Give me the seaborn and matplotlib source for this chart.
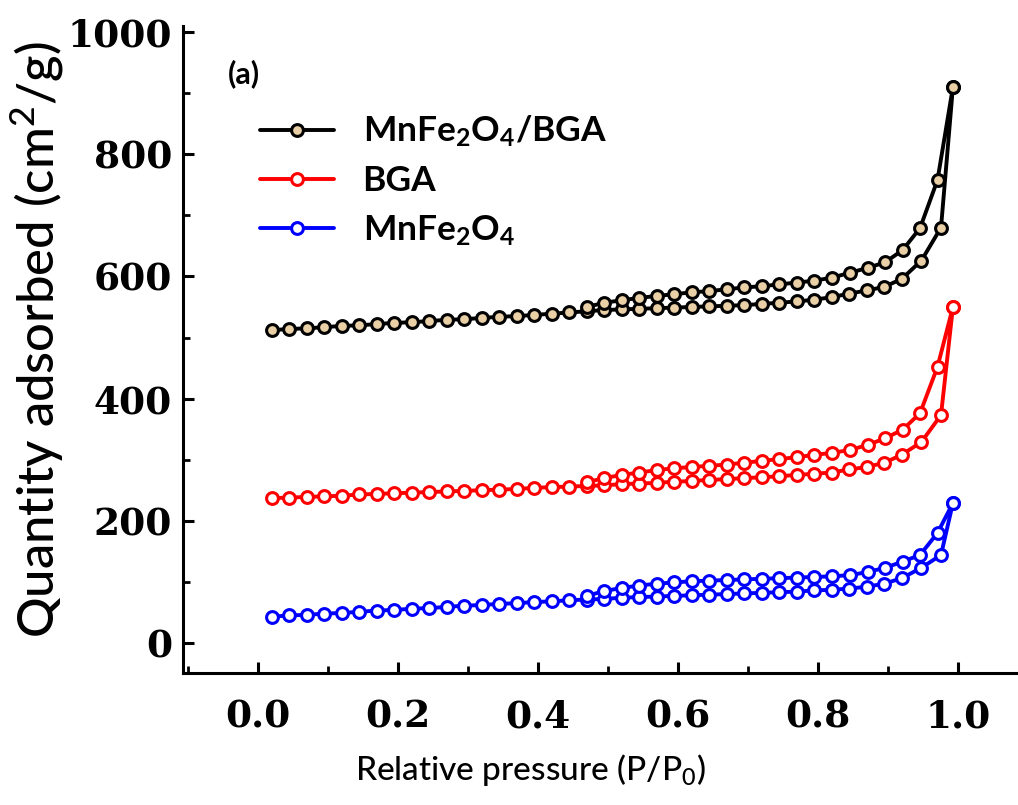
import matplotlib
matplotlib.use("Agg")
import matplotlib.pyplot as plt
import seaborn as sns
import pandas as pd
from matplotlib.ticker import MultipleLocator

# relative pressure of the adsorption branch (going up) and desorption branch (coming back)
ads_p = [0.02, 0.045, 0.07, 0.095, 0.12, 0.145, 0.17, 0.195, 0.22, 0.245,
         0.27, 0.295, 0.32, 0.345, 0.37, 0.395, 0.42, 0.445, 0.47, 0.495,
         0.52, 0.545, 0.57, 0.595, 0.62, 0.645, 0.67, 0.695, 0.72, 0.745,
         0.77, 0.795, 0.82, 0.845, 0.87, 0.895, 0.92, 0.948, 0.976, 0.993]
des_p = [0.993, 0.971, 0.946, 0.921, 0.896, 0.871, 0.846, 0.82, 0.795, 0.77,
         0.745, 0.72, 0.695, 0.67, 0.645, 0.62, 0.595, 0.57, 0.545, 0.52,
         0.495, 0.47]

composite_ads = [512, 514, 515, 517, 519, 520, 522, 524, 525, 527,
                 529, 530, 532, 534, 535, 537, 539, 541, 543, 545,
                 546, 547, 548, 549, 550, 551, 552, 553, 555, 557,
                 559, 562, 566, 572, 577, 583, 596, 626, 680, 910]
composite_des = [910, 758, 679, 643, 623, 614, 606, 598, 593, 590,
                 587, 584, 582, 579, 576, 574, 571, 568, 565, 561,
                 557, 550]

bga_ads = [237, 238, 239, 240, 241, 243, 244, 245, 246, 247,
           248, 249, 250, 251, 252, 254, 255, 256, 257, 258,
           260, 261, 262, 264, 265, 267, 268, 270, 271, 273,
           275, 277, 279, 284, 288, 295, 308, 329, 373, 550]
bga_des = [550, 452, 376, 349, 335, 324, 316, 311, 308, 304,
           301, 298, 295, 292, 290, 288, 286, 283, 279, 275,
           270, 263]

ferrite_ads = [43, 45, 46, 48, 49, 51, 53, 54, 56, 57,
               59, 61, 62, 64, 65, 67, 68, 70, 71, 72,
               74, 75, 76, 77, 78, 79, 80, 81, 82, 83,
               84, 86, 87, 89, 92, 97, 106, 123, 144, 229]
ferrite_des = [229, 180, 144, 133, 123, 116, 111, 109, 108, 107,
               106, 105, 104, 103, 102, 101, 99, 97, 94, 90,
               85, 77]

labels = [r"MnFe$\mathbf{_2}$O$\mathbf{_4}$/BGA", "BGA", r"MnFe$\mathbf{_2}$O$\mathbf{_4}$"]
colors = ["#000000", "#ff0000", "#0000ff"]
faces = ["#e9cfa6", "#ffffff", "#ffffff"]

sns.set_style("ticks")
plt.rcParams["font.family"] = ["Lato", "DejaVu Sans"]
plt.rcParams["mathtext.fontset"] = "custom"
plt.rcParams["mathtext.rm"] = "Lato:medium"
plt.rcParams["mathtext.bf"] = "Lato:bold"
plt.rcParams["text.color"] = "black"
plt.rcParams["axes.labelcolor"] = "black"

fig = plt.figure(figsize=(10.18, 8.05), dpi=100)
ax = fig.add_axes([0.1798, 0.1634, 0.8202, 0.8043])

series = [(composite_ads, composite_des), (bga_ads, bga_des), (ferrite_ads, ferrite_des)]
for (ads, des), lab, col, fc in zip(series, labels, colors, faces):
    df = pd.DataFrame({"p": ads_p + des_p, "q": ads + des})
    sns.lineplot(data=df, x="p", y="q", sort=False, estimator=None, ax=ax,
                 color=col, linewidth=2.8, marker="o", markersize=8.5,
                 markerfacecolor=fc, markeredgecolor=col, markeredgewidth=2.2,
                 label=lab)

ax.set_xlim(-0.107, 1.086)
ax.set_ylim(-50, 1010)
ax.xaxis.set_major_locator(MultipleLocator(0.2))
ax.xaxis.set_minor_locator(MultipleLocator(0.1))
ax.yaxis.set_major_locator(MultipleLocator(200))
ax.yaxis.set_minor_locator(MultipleLocator(100))
ax.set_xticks([0.0, 0.2, 0.4, 0.6, 0.8, 1.0])
ax.set_xticklabels(["0.0", "0.2", "0.4", "0.6", "0.8", "1.0"])

for side in ["top", "right"]:
    ax.spines[side].set_visible(False)
for side in ["left", "bottom"]:
    ax.spines[side].set_linewidth(2.2)
    ax.spines[side].set_color("black")

ax.tick_params(which="major", direction="in", length=8, width=2.2, color="black", labelcolor="black")
ax.tick_params(which="minor", direction="in", length=5, width=2.0, color="black")
ax.tick_params(axis="x", which="major", pad=18)
ax.tick_params(axis="y", which="major", pad=8)
for t in ax.get_xticklabels() + ax.get_yticklabels():
    t.set_fontfamily("DejaVu Serif")
    t.set_fontweight("bold")
    t.set_fontsize(27)

ax.set_xlabel(r"Relative pressure (P/P$_0$)", fontsize=24, fontweight="medium")
ax.set_ylabel(r"Quantity adsorbed (cm$^2$/g)", fontsize=36.5, fontweight="medium")
ax.xaxis.label.set_va("center")
ax.yaxis.label.set_va("center")
ax.xaxis.set_label_coords(0.4156, -0.149)
ax.yaxis.set_label_coords(-0.175, 0.515)

ax.text(0.054, 0.927, "(a)", transform=ax.transAxes, fontsize=22, fontweight="bold",
        ha="left", va="center")

leg = ax.legend(loc="upper left", bbox_to_anchor=(0.092, 0.864), frameon=False,
                borderpad=0, borderaxespad=0, handlelength=2.1, handletextpad=0.8,
                labelspacing=0.45, prop={"size": 25.5, "weight": "bold"})

fig.savefig("out.png", dpi=100)
